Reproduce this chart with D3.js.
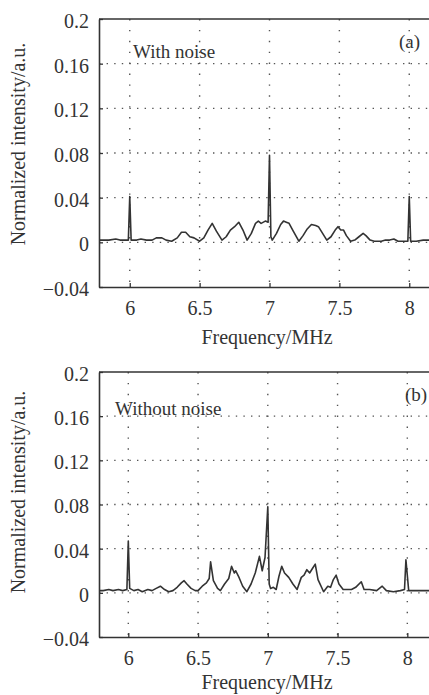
<!DOCTYPE html>
<html>
<head>
<meta charset="utf-8">
<script src="https://cdn.jsdelivr.net/npm/d3@7"></script>
<style>
  body { margin: 0; background: #fff; }
</style>
</head>
<body>
<svg id="chart"></svg>
<script>
const xTicks = [6, 6.5, 7, 7.5, 8];
const yTicks = [-0.04, 0, 0.04, 0.08, 0.12, 0.16, 0.2];
const xLabel = "Frequency/MHz";
const yLabel = "Normalized intensity/a.u.";
const serif = "'Liberation Serif', 'Times New Roman', 'DejaVu Serif', serif";

// panel (a), with noise
const freqA = [5.78, 5.85, 5.9, 5.93, 5.99, 6.0, 6.01, 6.05, 6.08, 6.12, 6.16, 6.19, 6.23, 6.26,
  6.3, 6.34, 6.37, 6.4, 6.43, 6.46, 6.5, 6.53, 6.56, 6.59, 6.62, 6.66, 6.69, 6.72, 6.75, 6.78,
  6.81, 6.84, 6.87, 6.9, 6.92, 6.94, 6.97, 6.99, 7.0, 7.01, 7.02, 7.05, 7.08, 7.1, 7.12, 7.14,
  7.17, 7.21, 7.24, 7.27, 7.3, 7.33, 7.35, 7.38, 7.41, 7.44, 7.47, 7.49, 7.51, 7.53, 7.55, 7.58,
  7.61, 7.64, 7.67, 7.69, 7.72, 7.75, 7.8, 7.83, 7.86, 7.89, 7.92, 7.95, 7.99, 8.0, 8.01, 8.05,
  8.1, 8.22];
const intensityA = [0.002, 0.002, 0.003, 0.002, 0.002, 0.041, 0.002, 0.002, 0.003, 0.002, 0.002,
  0.004, 0.004, 0.002, 0.001, 0.004, 0.009, 0.009, 0.005, 0.004, 0.001, 0.004, 0.011, 0.017,
  0.010, 0.002, 0.005, 0.011, 0.014, 0.018, 0.011, 0.002, 0.008, 0.017, 0.019, 0.017, 0.019,
  0.018, 0.078, 0.005, 0.002, 0.008, 0.016, 0.019, 0.018, 0.017, 0.010, 0.001, 0.006, 0.012,
  0.016, 0.015, 0.014, 0.008, 0.002, 0.005, 0.011, 0.014, 0.011, 0.011, 0.006, 0.001, 0.002,
  0.005, 0.008, 0.006, 0.002, 0.001, 0.001, 0.002, 0.002, 0.003, 0.001, 0.001, 0.001, 0.041,
  0.001, 0.001, 0.002, 0.002];

// panel (b), without noise
const freqB = [5.79, 5.82, 5.86, 5.89, 5.93, 5.96, 5.99, 6.0, 6.01, 6.04, 6.07, 6.1, 6.14, 6.17,
  6.2, 6.23, 6.26, 6.29, 6.32, 6.35, 6.38, 6.4, 6.42, 6.45, 6.48, 6.5, 6.53, 6.56, 6.58, 6.59,
  6.61, 6.64, 6.66, 6.69, 6.72, 6.74, 6.76, 6.77, 6.79, 6.82, 6.85, 6.88, 6.91, 6.94, 6.96, 6.98,
  7.0, 7.01, 7.02, 7.04, 7.06, 7.08, 7.1, 7.12, 7.15, 7.18, 7.21, 7.24, 7.26, 7.28, 7.3, 7.32,
  7.34, 7.36, 7.4, 7.43, 7.45, 7.47, 7.49, 7.51, 7.54, 7.57, 7.6, 7.63, 7.67, 7.69, 7.73, 7.78,
  7.82, 7.85, 7.9, 7.95, 7.98, 7.99, 8.01, 8.05, 8.1, 8.22];
const intensityB = [0.002, 0.002, 0.003, 0.002, 0.003, 0.002, 0.003, 0.047, 0.004, 0.002, 0.003,
  0.001, 0.003, 0.002, 0.004, 0.006, 0.003, 0.001, 0.002, 0.005, 0.009, 0.011, 0.008, 0.004,
  0.002, 0.002, 0.006, 0.009, 0.013, 0.028, 0.011, 0.004, 0.002, 0.008, 0.013, 0.024, 0.018,
  0.020, 0.015, 0.006, 0.001, 0.008, 0.018, 0.033, 0.020, 0.032, 0.078, 0.008, 0.004, 0.005,
  0.003, 0.015, 0.024, 0.018, 0.014, 0.008, 0.003, 0.014, 0.016, 0.021, 0.018, 0.022, 0.026,
  0.012, 0.001, 0.006, 0.005, 0.012, 0.016, 0.008, 0.003, 0.003, 0.003, 0.005, 0.010, 0.003,
  0.003, 0.002, 0.006, 0.002, 0.001, 0.002, 0.003, 0.030, 0.002, 0.002, 0.002, 0.002];

const svg = d3.select("#chart").attr("width", 429).attr("height", 695);

function drawPanel(cfg, freq, intensity) {
  const x = d3.scaleLinear().domain(cfg.xDomain).range([cfg.left, cfg.right]);
  const y = d3.scaleLinear().domain([-0.04, 0.2]).range([cfg.bottom, cfg.top]);
  const g = svg.append("g");
  const clipId = "clip-" + cfg.name;

  g.append("clipPath").attr("id", clipId)
    .append("rect")
    .attr("x", cfg.left).attr("y", cfg.top)
    .attr("width", cfg.right - cfg.left).attr("height", cfg.bottom - cfg.top);

  // dotted grid
  g.selectAll(".hgrid")
    .data(yTicks.slice(1, -1))
    .join("line")
    .attr("x1", cfg.left).attr("x2", cfg.right)
    .attr("y1", d => y(d)).attr("y2", d => y(d))
    .attr("stroke", "#555").attr("stroke-width", 1.4)
    .attr("stroke-dasharray", "1.4,6.2");
  g.selectAll(".vgrid")
    .data(xTicks)
    .join("line")
    .attr("x1", d => x(d)).attr("x2", d => x(d))
    .attr("y1", cfg.top).attr("y2", cfg.bottom)
    .attr("stroke", "#555").attr("stroke-width", 1.4)
    .attr("stroke-dasharray", "1.4,9.5");

  const line = d3.line()
    .x((d, i) => x(freq[i]))
    .y(d => y(d));
  g.append("path")
    .datum(intensity)
    .attr("clip-path", `url(#${clipId})`)
    .attr("d", line)
    .attr("fill", "none")
    .attr("stroke", "#333")
    .attr("stroke-width", 1.6)
    .attr("stroke-linejoin", "round");

  // axes drawn with d3, inward ticks
  const yAxis = g.append("g")
    .attr("transform", `translate(${cfg.left},0)`)
    .call(d3.axisLeft(y).tickValues(yTicks).tickSizeInner(-4).tickSizeOuter(0)
      .tickPadding(10).tickFormat(d => d3.format("")(d).replace("-", "\u2212")));
  const xAxis = g.append("g")
    .attr("transform", `translate(0,${cfg.bottom})`)
    .call(d3.axisBottom(x).tickValues(xTicks).tickSizeInner(-4).tickSizeOuter(0)
      .tickPadding(14).tickFormat(d3.format("")));

  [yAxis, xAxis].forEach(a => {
    a.attr("font-family", null).attr("font-size", null);
    a.select(".domain").attr("stroke", "#333").attr("stroke-width", 1.6);
    a.selectAll(".tick line").attr("stroke", "#333").attr("stroke-width", 1.3);
    a.selectAll("text").style("font-family", serif).style("font-size", "20px").attr("fill", "#333");
  });
  yAxis.selectAll("text").attr("dy", "0.42em");

  g.append("line")
    .attr("x1", cfg.left).attr("x2", cfg.right)
    .attr("y1", cfg.top).attr("y2", cfg.top)
    .attr("stroke", "#333").attr("stroke-width", 1.6);

  const label = (sel, size) => sel.style("font-family", serif).style("font-size", size).attr("fill", "#333");

  g.append("text")
    .attr("x", 267).attr("y", cfg.xLabelY)
    .attr("text-anchor", "middle")
    .call(label, "20px")
    .text(xLabel);

  g.append("text")
    .attr("transform", `translate(25,${cfg.yLabelMid}) rotate(-90)`)
    .attr("text-anchor", "middle")
    .call(label, "20px")
    .text(yLabel);

  g.append("text")
    .attr("x", cfg.noteX).attr("y", cfg.top + cfg.noteDy)
    .call(label, "19px")
    .text(cfg.note);

  g.append("text")
    .attr("x", cfg.tagX).attr("y", cfg.top + 29)
    .call(label, "19px")
    .text(cfg.tag);
}

drawPanel({
  name: "a", xDomain: [5.78, 8.22], left: 99, right: 440, top: 19, bottom: 287,
  xLabelY: 344, yLabelMid: 144, note: "With noise", noteX: 133, noteDy: 39, tag: "(a)", tagX: 399
}, freqA, intensityA);

drawPanel({
  name: "b", xDomain: [5.79, 8.22], left: 99, right: 438, top: 372, bottom: 637,
  xLabelY: 689, yLabelMid: 492, note: "Without noise", noteX: 115, noteDy: 43, tag: "(b)", tagX: 405
}, freqB, intensityB);
</script>
</body>
</html>
